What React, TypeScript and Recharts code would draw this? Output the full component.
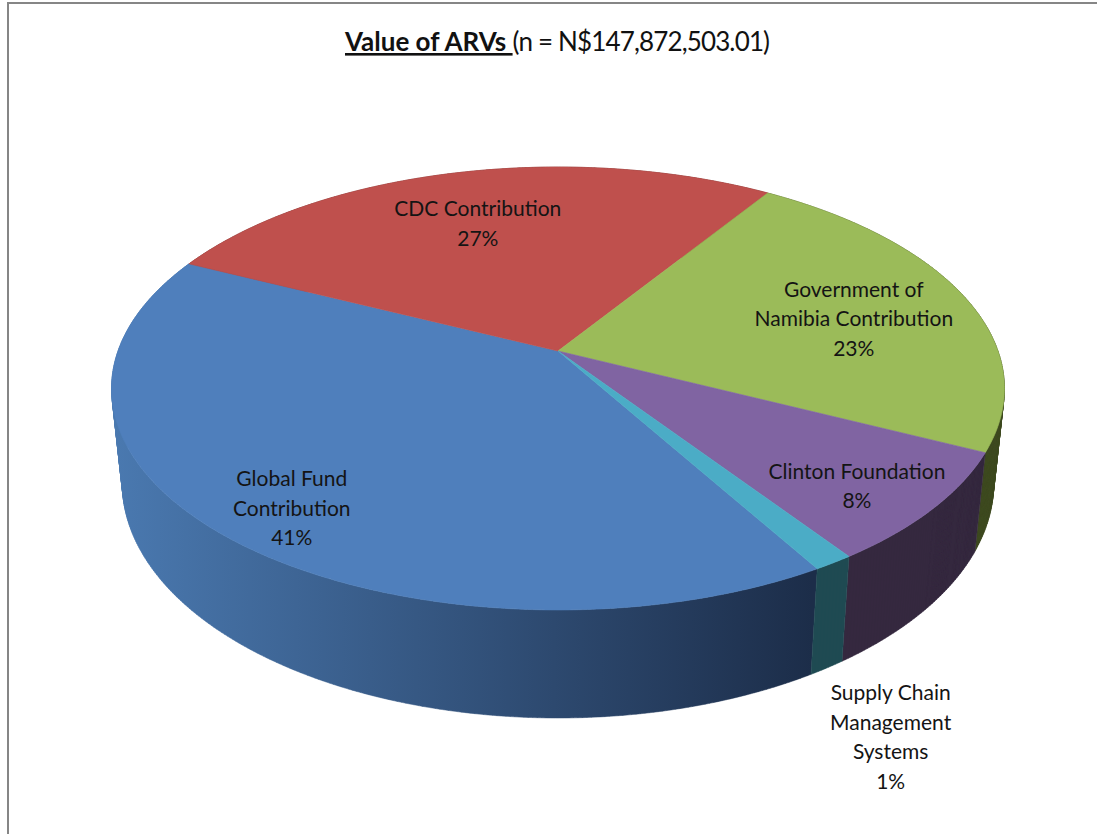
import { Pie, PieChart } from "recharts";

const categories = [
  "Global Fund Contribution",
  "CDC Contribution",
  "Government of Namibia Contribution",
  "Clinton Foundation",
  "Supply Chain Management Systems",
];
const shares = [40.55, 27.0, 23.05, 8.15, 1.25];
const labelLines = [
  ["Global Fund", "Contribution"],
  ["CDC Contribution"],
  ["Government of", "Namibia Contribution"],
  ["Clinton Foundation"],
  ["Supply Chain", "Management", "Systems"],
];

const topColors = ["#4f7fbc", "#bf504d", "#9bbb59", "#8064a2", "#4bacc6"];
const wallColors = ["url(#globalWall)", "#6e2c2a", "#3f4b20", "#35283f", "#1f4a52"];

// label placement: fraction of the radius along the slice's mid angle, then a nudge in x
const labelRadius = [0.885, 0.687, 0.588, 0.869, 1.63];
const labelNudge = [31, -7, 53, -22, -169];

const data = categories.map((name, i) => ({ name, value: shares[i] }));

// the pie is seen in perspective: the apex sits above the centre of the rim ellipse
const TILT = 0.4889;
const PERSPECTIVE = 0.1693;
const WALL_SHRINK = 0.976;
const WALL_STRETCH = 1.06;
const WALL_DROP = 92.5;
const FONT = "Lato, 'Open Sans', sans-serif";

function project(radius: number, degrees: number, fraction = 1) {
  const t = (degrees * Math.PI) / 180;
  const u = fraction * Math.cos(t);
  const v = -fraction * Math.sin(t);
  const w = 1 - PERSPECTIVE * v;
  return { x: (radius * u) / w, y: (radius * TILT * v) / w };
}

function sweep(start: number, end: number) {
  const n = Math.max(2, Math.ceil(Math.abs(end - start) * 2));
  return Array.from({ length: n + 1 }, (_, i) => start + ((end - start) * i) / n);
}

function TopSlice(props: any) {
  const { cx, cy, outerRadius, startAngle, endAngle, index } = props;
  const rim = sweep(startAngle, endAngle).map((a) => {
    const p = project(outerRadius, a);
    return `${(cx + p.x).toFixed(2)} ${(cy + p.y).toFixed(2)}`;
  });
  const color = topColors[index];
  return <path d={`M${cx} ${cy}L${rim.join("L")}Z`} fill={color} stroke={color} strokeWidth={0.6} />;
}

function WallSlice(props: any) {
  const { cx, cy, outerRadius, startAngle, endAngle, index } = props;
  const angles = sweep(startAngle, endAngle);
  const bottom = (p: { x: number; y: number }) => ({
    x: p.x * WALL_SHRINK,
    y: WALL_DROP + p.y * WALL_STRETCH,
  });
  let d = "";
  for (let i = 0; i < angles.length - 1; i++) {
    const a = project(outerRadius, angles[i]);
    const b = project(outerRadius, angles[i + 1]);
    let quad = [a, b, bottom(b), bottom(a)];
    // keep every quad wound the same way so the overlaps stay filled
    const area = quad.reduce((s, p, j) => {
      const q = quad[(j + 1) % 4];
      return s + p.x * q.y - q.x * p.y;
    }, 0);
    if (area < 0) quad = quad.reverse();
    d += `M${quad.map((p) => `${(cx + p.x).toFixed(2)} ${(cy + p.y).toFixed(2)}`).join("L")}Z`;
  }
  return <path d={d} fill={wallColors[index]} stroke={wallColors[index]} strokeWidth={0.5} />;
}

function SliceLabel(props: any) {
  const { cx, cy, outerRadius, midAngle, percent, index } = props;
  const p = project(outerRadius, midAngle, labelRadius[index]);
  const lines = [...labelLines[index], `${Math.round(percent * 100)}%`];
  const x = cx + p.x + labelNudge[index];
  const lineHeight = 29.5;
  const top = cy + p.y - ((lines.length - 1) * lineHeight) / 2 + 8;
  return (
    <text x={x} y={top} textAnchor="middle" fontFamily={FONT} fontSize={21} fill="#141414">
      {lines.map((line, i) => (
        <tspan key={line} x={x} dy={i === 0 ? 0 : lineHeight}>
          {line}
        </tspan>
      ))}
    </text>
  );
}

export default function App() {
  return (
    <div style={{ position: "absolute", left: 0, top: 0, width: 1097, height: 834, background: "#fff", overflow: "hidden" }}>
      <div
        style={{
          position: "absolute",
          left: 7,
          top: 2,
          right: 0,
          bottom: 0,
          borderLeft: "2px solid #868686",
          borderTop: "2px solid #868686",
        }}
      />
      <div style={{ position: "absolute", left: 0, top: 0 }}>
        <PieChart width={1097} height={834} margin={{ top: 0, right: 0, bottom: 0, left: 0 }}>
          <defs>
            <linearGradient id="globalWall" gradientUnits="userSpaceOnUse" x1={112} y1={0} x2={812} y2={0}>
              <stop offset="0" stopColor="#4a79b0" />
              <stop offset="1" stopColor="#1c2d49" />
            </linearGradient>
          </defs>
          <text x={345} y={51} fontFamily={FONT} fontSize={26} fill="#111">
            <tspan fontWeight={700} textDecoration="underline">Value of ARVs </tspan>
            <tspan letterSpacing={-0.85}>(n = N$147,872,503.01)</tspan>
          </text>
          <Pie
            data={data}
            dataKey="value"
            nameKey="name"
            cx={558}
            cy={351}
            outerRadius={440}
            startAngle={-59.8}
            endAngle={-419.8}
            shape={WallSlice}
            inactiveShape={WallSlice}
            stroke="none"
            isAnimationActive={false}
          />
          <Pie
            data={data}
            dataKey="value"
            nameKey="name"
            cx={558}
            cy={351}
            outerRadius={440}
            startAngle={-59.8}
            endAngle={-419.8}
            shape={TopSlice}
            inactiveShape={TopSlice}
            stroke="none"
            label={SliceLabel}
            labelLine={false}
            isAnimationActive={false}
          />
        </PieChart>
      </div>
    </div>
  );
}
